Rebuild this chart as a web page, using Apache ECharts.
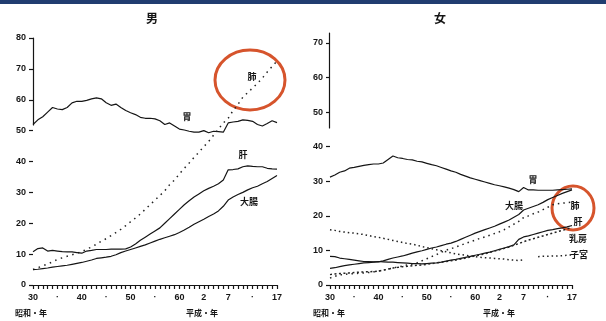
<!DOCTYPE html>
<html><head><meta charset="utf-8">
<script src="https://cdn.jsdelivr.net/npm/echarts@6/dist/echarts.min.js"></script>
<style>html,body{margin:0;padding:0;background:#fff;}#c{width:606px;height:321px;}</style>
</head><body><div id="c"></div>
<script>
const years = [];
for (let y = 1955; y <= 2005; y++) years.push(y);
const xTickLabels = {1955:'30',1960:'·',1965:'40',1970:'·',1975:'50',1980:'·',1985:'60',1990:'2',1995:'7',2000:'·',2005:'17'};

// 男 (male)
const maleStomach = [52,53.5,54.5,56,57.5,57,56.8,57.5,59,59.5,59.5,59.8,60.3,60.6,60.3,59,58.2,58.6,57.5,56.5,55.8,55.2,54.3,54,54,53.8,53.2,52,52.5,51.5,50.5,50.2,49.8,49.5,49.5,50,49.3,49.8,49.7,49.5,52.5,52.8,53,53.5,53.3,53,52,51.5,52.3,53.2,52.6];
const maleLung = [5.0,5.6,6.2,6.8,7.5,8.3,8.8,9.3,9.8,10.3,10.8,11.6,12.3,13.2,14.2,15.0,16.0,17.0,18.0,19.2,20.5,21.7,23.0,24.5,26.0,27.5,29.0,30.5,32.5,34.0,36.0,37.8,39.5,41.3,43.0,44.8,46.5,48.5,50.5,52.5,54.0,56.5,58.5,60.8,62.3,63.8,65.3,67.0,69.0,70.8,72.5];
const maleLiver = [10.8,11.8,12.0,11.0,11.2,11.0,10.8,10.7,10.7,10.5,10.3,11.0,11.2,11.5,11.5,11.5,11.6,11.6,11.6,11.7,12.3,13.3,14.5,15.5,16.5,17.5,18.5,20.0,21.5,23.0,24.5,26.0,27.3,28.5,29.5,30.5,31.3,32.0,32.8,34.0,37.3,37.4,37.6,38.3,38.6,38.4,38.3,38.3,37.8,37.6,37.5];
const maleColon = [5.0,5.1,5.3,5.5,5.8,6.0,6.2,6.4,6.7,7.0,7.3,7.7,8.1,8.6,8.8,9.0,9.3,9.8,10.5,11.0,11.5,12.0,12.5,13.0,13.6,14.2,14.8,15.3,15.8,16.3,17.0,17.8,18.7,19.7,20.5,21.3,22.2,23.0,24.0,25.5,27.5,28.5,29.3,30.0,30.8,31.5,32.0,32.8,33.5,34.5,35.5];

// 女 (female)
const femStomach = [31.2,31.8,32.6,33.0,33.8,34.0,34.3,34.6,34.8,35.0,35.0,35.3,36.3,37.3,36.8,36.6,36.3,36.2,35.8,35.6,35.2,34.8,34.5,34.0,33.5,33.0,32.6,32.0,31.5,31.0,30.6,30.2,29.8,29.4,29.0,28.7,28.4,28.0,27.6,27.0,28.2,27.5,27.5,27.4,27.4,27.4,27.4,27.5,27.6,27.7,27.8];
const femColon = [4.8,5.0,5.3,5.6,5.8,6.0,6.2,6.4,6.5,6.6,6.7,7.0,7.4,7.8,8.1,8.4,8.8,9.2,9.6,9.9,10.3,10.7,11.0,11.4,11.8,12.1,12.6,13.2,13.8,14.4,15.0,15.5,16.0,16.5,17.0,17.6,18.2,18.8,19.6,20.4,21.7,22.2,22.7,23.2,23.9,24.7,25.3,25.9,26.5,27.0,27.5];
const femLung = [2.0,2.5,2.9,3.1,3.2,3.3,3.4,3.5,3.6,3.8,4.0,4.3,4.6,4.9,5.2,5.5,5.8,6.1,6.4,7.0,7.6,8.2,8.8,9.5,10.1,10.5,11.0,11.5,12.0,12.5,13.0,13.5,13.9,14.4,14.9,15.4,16.0,16.8,17.6,18.4,19.5,20.0,20.6,21.1,21.8,22.5,23.2,23.5,23.7,23.8,24.0];
const femLiver = [8.3,8.2,7.8,7.6,7.4,7.2,7.0,6.8,6.8,6.7,6.8,6.7,6.6,6.6,6.5,6.4,6.3,6.2,6.2,6.1,6.2,6.3,6.4,6.6,6.9,7.2,7.4,7.7,8.0,8.3,8.6,8.9,9.2,9.5,9.9,10.3,10.7,11.1,11.6,13.2,13.9,14.2,14.6,15.0,15.4,15.8,16.0,16.3,16.5,16.8,17.2];
const femBreast = [3.0,3.2,3.3,3.4,3.5,3.6,3.7,3.8,3.8,3.9,4.0,4.3,4.6,4.9,5.1,5.3,5.4,5.6,5.7,5.8,6.0,6.2,6.4,6.6,6.8,7.0,7.2,7.5,7.8,8.1,8.4,8.7,9.0,9.4,9.8,10.2,10.6,11.0,11.5,12.0,12.5,13.0,13.4,13.8,14.2,14.6,15.0,15.4,15.8,16.2,16.7];
const femUterus = [16.0,15.8,15.5,15.3,15.1,15.0,14.8,14.6,14.3,14.0,13.8,13.5,13.2,12.9,12.6,12.3,12.0,11.8,11.5,11.1,10.8,10.5,10.2,9.9,9.6,9.3,9.0,8.8,8.6,8.4,8.2,8.0,7.9,7.8,7.7,7.6,7.5,7.3,7.2,7.1,7.3,null,null,8.2,8.3,8.3,8.4,8.4,8.5,8.6,8.7];

const pairs = arr => years.map((y, i) => [y, arr[i]]);
const INK = '#151515';
const tickFont = {color: INK, fontSize: 9, fontWeight: 'bold', fontFamily: 'Liberation Sans'};
const jp = 'Noto Sans CJK JP';

function xAx(gi) {
  return {
    type: 'value', gridIndex: gi, min: 1955, max: 2005, interval: 5,
    axisLine: {show: true, lineStyle: {color: INK, width: 1.2}},
    axisTick: {show: true, length: 4, lineStyle: {color: INK, width: 1.2}},
    minorTick: {show: true, splitNumber: 5, length: 4, lineStyle: {color: INK, width: 1.2}},
    splitLine: {show: false},
    axisLabel: Object.assign({margin: 8, formatter: v => xTickLabels[v] || ''}, tickFont)
  };
}
function yAx(gi, max) {
  return {
    type: 'value', gridIndex: gi, min: 0, max: max, interval: 10,
    axisLine: {show: false},
    axisTick: {show: true, length: 4, lineStyle: {color: INK, width: 1.2}},
    splitLine: {show: false},
    axisLabel: Object.assign({margin: 7}, tickFont)
  };
}
function lineAx(gi) {
  return {type: 'value', gridIndex: gi, min: 0, max: 1, axisLine: {show: true, lineStyle: {color: INK, width: 1.2}},
    axisTick: {show: false}, axisLabel: {show: false}, splitLine: {show: false}};
}
function hiddenX(gi) {
  return {type: 'value', gridIndex: gi, min: 0, max: 1, show: false};
}
function solid(data, gi) {
  return {type: 'line', xAxisIndex: gi, yAxisIndex: gi, data: pairs(data), showSymbol: false, symbol: 'none',
    lineStyle: {color: INK, width: 1.2}, connectNulls: false, silent: true};
}
function dotted(data, gi, dash) {
  return {type: 'line', xAxisIndex: gi, yAxisIndex: gi, data: pairs(data), showSymbol: false, symbol: 'none',
    lineStyle: {color: '#222', width: 1.5, type: dash || [1.5, 4]}, silent: true};
}
function txt(x, y, s, size) {
  return {type: 'text', x: x, y: y, style: {text: s, fill: INK, font: 'bold ' + (size || 9) + 'px "' + jp + '"', textAlign: 'center', textVerticalAlign: 'middle'}};
}

const chart = echarts.init(document.getElementById('c'), null, {renderer: 'canvas'});
chart.setOption({
  animation: false,
  backgroundColor: '#fff',
  grid: [
    {left: 33, top: 38, width: 244, height: 247},
    {left: 330, top: 43, width: 242, height: 242},
    {left: 33, top: 38, width: 1, height: 87},
    {left: 329, top: 33, width: 1, height: 95}
  ],
  xAxis: [xAx(0), xAx(1), hiddenX(2), hiddenX(3)],
  yAxis: [yAx(0, 80), yAx(1, 70), lineAx(2), lineAx(3)],
  series: [
    solid(maleStomach, 0),
    dotted(maleLung, 0, [1.5, 4.5]),
    solid(maleLiver, 0),
    solid(maleColon, 0),
    solid(femStomach, 1),
    solid(femColon, 1),
    dotted(femLung, 1, [1.5, 4]),
    solid(femLiver, 1),
    dotted(femBreast, 1, [2, 2.5]),
    dotted(femUterus, 1, [1.5, 3])
  ],
  graphic: [
    {type: 'rect', shape: {x: 0, y: 0, width: 606, height: 4}, style: {fill: '#213d70'}},
    txt(152, 18, '男', 12),
    txt(440, 18, '女', 12),
    txt(252, 77, '肺'),
    txt(187, 117, '胃'),
    txt(243, 155, '肝'),
    txt(249, 202, '大腸'),
    txt(533, 180, '胃'),
    txt(514, 206, '大腸'),
    txt(575, 206, '肺'),
    txt(578, 222, '肝'),
    txt(578, 239, '乳房'),
    txt(579, 255, '子宮'),
    txt(31, 313, '昭和・年', 8),
    txt(202, 313, '平成・年', 8),
    txt(329, 313, '昭和・年', 8),
    txt(499, 313, '平成・年', 8),
    {type: 'ellipse', shape: {cx: 250, cy: 80, rx: 35, ry: 30}, style: {fill: 'none', stroke: '#d6542c', lineWidth: 3}},
    {type: 'ellipse', shape: {cx: 573, cy: 208, rx: 21, ry: 22}, style: {fill: 'none', stroke: '#d6542c', lineWidth: 3}}
  ]
});
</script></body></html>
